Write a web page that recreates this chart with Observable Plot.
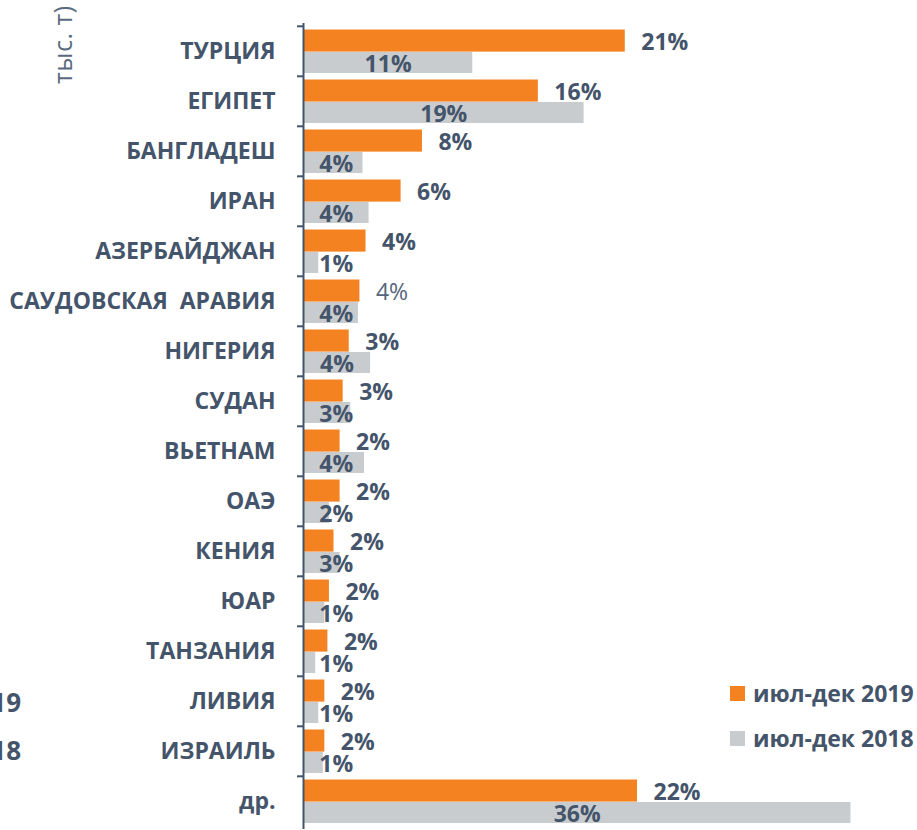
<!DOCTYPE html>
<html>
<head>
<meta charset="utf-8">
<script src="https://cdn.jsdelivr.net/npm/d3@7"></script>
<script src="https://cdn.jsdelivr.net/npm/@observablehq/plot@0.6"></script>
<style>
  body { margin: 0; background: #fff; }
  #wrap { position: relative; width: 917px; height: 830px; overflow: hidden; font-family: "Open Sans", sans-serif; color: #44546A; }
  .leg { position: absolute; left: 730px; display: flex; align-items: center; font-weight: 700; font-size: 23px; line-height: 23px; white-space: nowrap; }
  .leg .sw { width: 15px; height: 15px; margin-right: 8px; }
  .frag { position: absolute; white-space: nowrap; }
</style>
</head>
<body>
<div id="wrap"></div>
<script>
// Data
const countries = ["ТУРЦИЯ", "ЕГИПЕТ", "БАНГЛАДЕШ", "ИРАН", "АЗЕРБАЙДЖАН", "САУДОВСКАЯ  АРАВИЯ", "НИГЕРИЯ", "СУДАН", "ВЬЕТНАМ", "ОАЭ", "КЕНИЯ", "ЮАР", "ТАНЗАНИЯ", "ЛИВИЯ", "ИЗРАИЛЬ", "др."];
const values2019 = [21.1, 15.4, 7.8, 6.4, 4.1, 3.7, 3.0, 2.6, 2.4, 2.4, 2.0, 1.7, 1.6, 1.4, 1.4, 21.9];
const values2018 = [11.1, 18.4, 3.9, 4.3, 1.0, 3.6, 4.4, 3.1, 4.0, 1.7, 2.4, 1.4, 0.8, 1.0, 1.3, 35.9];
const labels2019 = ["21%", "16%", "8%", "6%", "4%", "4%", "3%", "3%", "2%", "2%", "2%", "2%", "2%", "2%", "2%", "22%"];
const labels2018 = ["11%", "19%", "4%", "4%", "1%", "4%", "4%", "3%", "4%", "2%", "3%", "1%", "1%", "1%", "1%", "36%"];
const seriesNames = ["июл-дек 2019", "июл-дек 2018"];
const seriesColors = ["#F58220", "#C9CCCF"];
const leftFragments = ["тыс. т)", "июл-дек 2019", "июл-дек 2018"];

const rows2019 = countries.map((c, i) => ({country: c, value: values2019[i], label: labels2019[i]}));
const rows2018 = countries.map((c, i) => ({country: c, value: values2018[i], label: labels2018[i]}));
const plainCountry = countries[5];

const W = 917, H = 830, mt = 23, mb = 1;
const step = (H - mt - mb) / countries.length;
const textColor = "#44546A";

const chart = Plot.plot({
  width: W, height: H,
  marginLeft: 303, marginRight: 4, marginTop: mt, marginBottom: mb,
  style: {fontFamily: "'Open Sans', sans-serif", color: textColor, background: "white", overflow: "visible"},
  x: {domain: [0, 40], axis: null},
  y: {domain: countries, padding: 0, axis: null},
  marks: [
    Plot.barX(rows2019, {x: "value", y: "country", fill: seriesColors[0], insetTop: 3.5, insetBottom: step - 26}),
    Plot.barX(rows2018, {x: "value", y: "country", fill: seriesColors[1], insetTop: 26, insetBottom: 3}),
    Plot.axisY({label: null, tickSize: 0, tickPadding: 28, fontSize: 23, fontWeight: 700, fill: textColor}),
    Plot.axisY({label: null, tickSize: 6, tickFormat: () => "", dy: -step / 2, strokeWidth: 2, stroke: textColor}),
    Plot.ruleX([0], {stroke: textColor, strokeWidth: 2}),
    Plot.text(rows2019.filter(d => d.country !== plainCountry), {x: "value", y: "country", text: "label", textAnchor: "start", dx: 16, dy: -8.5, fontSize: 23, fontWeight: 700, fill: textColor}),
    Plot.text(rows2019.filter(d => d.country === plainCountry), {x: "value", y: "country", text: "label", textAnchor: "start", dx: 16, dy: -8.5, fontSize: 23, fontWeight: 400, fill: "#56657a"}),
    Plot.text(rows2018, {x: d => Math.max(d.value / 2, 2.15), y: "country", text: "label", dy: 13, fontSize: 23, fontWeight: 700, fill: textColor})
  ]
});

const wrap = document.getElementById("wrap");
wrap.appendChild(chart);

// legend
seriesNames.forEach((name, i) => {
  const el = document.createElement("div");
  el.className = "leg";
  el.style.top = (682 + i * 45) + "px";
  el.innerHTML = `<span class="sw" style="background:${seriesColors[i]}"></span><span>${name}</span>`;
  wrap.appendChild(el);
});

// cut-off fragments of a neighbouring chart at the left edge
const f0 = document.createElement("div");
f0.className = "frag";
f0.style.cssText = "left:45px;top:84px;font-size:25px;letter-spacing:0.5px;color:#5a6a80;transform-origin:0 0;transform:rotate(-90deg);";
f0.textContent = leftFragments[0];
wrap.appendChild(f0);
[1, 2].forEach((k, j) => {
  const el = document.createElement("div");
  el.className = "frag";
  el.style.cssText = `right:${917 - 21}px;top:${684 + j * 48}px;font-size:26px;font-weight:700;color:${textColor};`;
  el.textContent = leftFragments[k];
  wrap.appendChild(el);
});
</script>
</body>
</html>
